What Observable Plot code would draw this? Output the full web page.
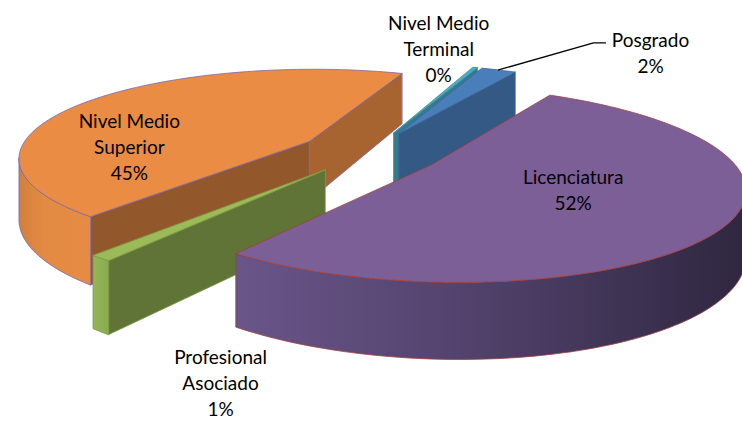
<!DOCTYPE html>
<html><head><meta charset="utf-8">
<script src="https://cdn.jsdelivr.net/npm/d3@7"></script>
<script src="https://cdn.jsdelivr.net/npm/@observablehq/plot@0.6"></script>
<style>body{margin:0;background:#fff}</style>
</head><body><div id="chart"></div>
<script>
// ---- data
const categories = ["Nivel Medio Terminal","Posgrado","Licenciatura","Profesional Asociado","Nivel Medio Superior"];
const shares = [0.3, 2.3, 51.7, 1.0, 44.7];
const pctLabels = ["0%","2%","52%","1%","45%"];

// ---- layout / style
const W = 742, H = 421;
const view = {h:[248.52577,164.64409,369.12554,21.60454,-57.04866,151.91575,-0.07480,0.17378], explode:0.242, depth:60.5};
const topColors  = ["#4BACC6","#4A7EBB","#7D5F98","#9BBB59","#EB8C44"];
const edgeColors = ["#3E8FA5","#3C679A","#A0403C","#7E9A45","#7B68A8"];
const wallStops  = [
  [["0","#3E93AA"],["1","#3E93AA"]],
  [["0","#3F6DA3"],["1","#3F6DA3"]],
  [["0","#6A5589"],["0.5","#4F4069"],["1","#2F2740"]],
  [["0","#94B656"],["1","#8AAA50"]],
  [["0","#D37F3C"],["0.35","#E38A43"],["1","#E68B43"]]
];
const labelLayout = [ // anchor radius along mid-angle, screen offset, optional leader
  {r:1.3, ang:-10, dx:-5, dy:0},
  {r:1.0, dx:152, dy:-18, leader:[[95,-27],[107,-27]]},
  {r:0.5, dx:3, dy:-4},
  {r:1.0, dx:120, dy:124},
  {r:0.5, dx:-64, dy:25}
];
const labelText = categories.map((c,i)=>{
  const words = c.split(" ");
  const lines = c === "Licenciatura" ? [c] : c === "Posgrado" ? [c] :
    (words.length === 3 ? [words.slice(0,2).join(" "), words[2]] : words);
  return [...lines, pctLabels[i]].join("\n");
});

// ---- geometry from the shares
const total = d3.sum(shares);
const start = [], end = [];
{ let acc = 0; shares.forEach(s=>{ start.push(acc/total*360); acc+=s; end.push(acc/total*360); }); }
const mid = start.map((s,i)=>(s+end[i])/2);
const dir = t => [Math.sin(t*Math.PI/180), Math.cos(t*Math.PI/180)];
const proj = (u,v) => { const h=view.h; const w=h[6]*u+h[7]*v+1; return [(h[0]*u+h[1]*v+h[2])/w,(h[3]*u+h[4]*v+h[5])/w,1/w]; };
const offset = i => { const d=dir(mid[i]); return [view.explode*d[0], view.explode*d[1]]; };
const shade=(c,f)=>{const r=d3.rgb(c);return d3.rgb(r.r*f,r.g*f,r.b*f).formatHex();};

const polys=[]; let pid=0;
const addPoly=(pts,fill,stroke)=>{const id=pid++;pts.forEach(p=>polys.push({id,x:p[0],y:p[1],fill,stroke}));};
const order=[0,1,4,3,2];
for(const i of order){
  const o=offset(i);
  const n=Math.max(2,Math.ceil((end[i]-start[i])/1.5));
  const top=[],bot=[];
  for(let k=0;k<=n;k++){const t=start[i]+(end[i]-start[i])*k/n;const r=dir(t);const p=proj(o[0]+r[0],o[1]+r[1]);top.push([p[0],p[1]]);bot.push([p[0],p[1]+view.depth*p[2]]);}
  const c=proj(o[0],o[1]);const C=[c[0],c[1]],CB=[c[0],c[1]+view.depth*c[2]];
  const col=topColors[i],ec=edgeColors[i];
  if(top[0][0]-C[0]<0) addPoly([C,top[0],bot[0],CB],shade(col,0.62),ec);
  if(C[0]-top[n][0]<0) addPoly([top[n],C,CB,bot[n]],shade(col,0.71),ec);
  // outer wall: contiguous visible runs
  let run=[];
  const flush=()=>{ if(run.length>1){ const tp=run.map(k=>top[k]), bt=run.map(k=>bot[k]).reverse(); addPoly([...tp,...bt],`url(#wall${i})`,ec);} run=[]; };
  for(let k=0;k<n;k++){
    if(top[k+1][0]-top[k][0]<0){ if(!run.length) run.push(k); run.push(k+1); } else flush();
  }
  flush();
  addPoly([C,...top],col,ec);
}

// labels
const labels = labelLayout.map((L,i)=>{
  const o=offset(i); const d=dir(mid[i]+(L.ang||0));
  const p=proj(o[0]+L.r*d[0], o[1]+L.r*d[1]);
  return {x:p[0]+L.dx, y:p[1]+L.dy, text:labelText[i], ax:p[0], ay:p[1], leader:L.leader};
});
const leaders = [];
labels.forEach((l,i)=>{ if(l.leader){ leaders.push({id:i,x:l.ax,y:l.ay}); l.leader.forEach(([dx,dy])=>leaders.push({id:i,x:l.ax+dx,y:l.ay+dy})); }});

const chart=Plot.plot({width:W,height:H,margin:0,
  x:{domain:[0,W],range:[0,W],axis:null},y:{domain:[0,H],range:[0,H],axis:null},color:{type:"identity"},
  style:{background:"#fff"},
  marks:[
    Plot.line(polys,{x:"x",y:"y",z:"id",fill:"fill",stroke:"stroke",strokeWidth:0.8,curve:"linear-closed"}),
    Plot.line(leaders,{x:"x",y:"y",z:"id",stroke:"#000",strokeWidth:1.3}),
    Plot.text(labels,{x:"x",y:"y",text:"text",fill:"#000",fontSize:19,lineHeight:1.37,fontFamily:"Lato, 'Open Sans', sans-serif",textAnchor:"middle"})
  ]});
// horizontal gradients for the curved walls
const ns="http://www.w3.org/2000/svg";
const defs=document.createElementNS(ns,"defs");
wallStops.forEach((stops,i)=>{
  const g=document.createElementNS(ns,"linearGradient");
  g.setAttribute("id",`wall${i}`);g.setAttribute("x1","0");g.setAttribute("x2","1");g.setAttribute("y1","0");g.setAttribute("y2","0");
  stops.forEach(([off,c])=>{const s=document.createElementNS(ns,"stop");s.setAttribute("offset",off);s.setAttribute("stop-color",c);g.append(s);});
  defs.append(g);
});
chart.prepend(defs);
document.getElementById("chart").append(chart);
</script></body></html>
